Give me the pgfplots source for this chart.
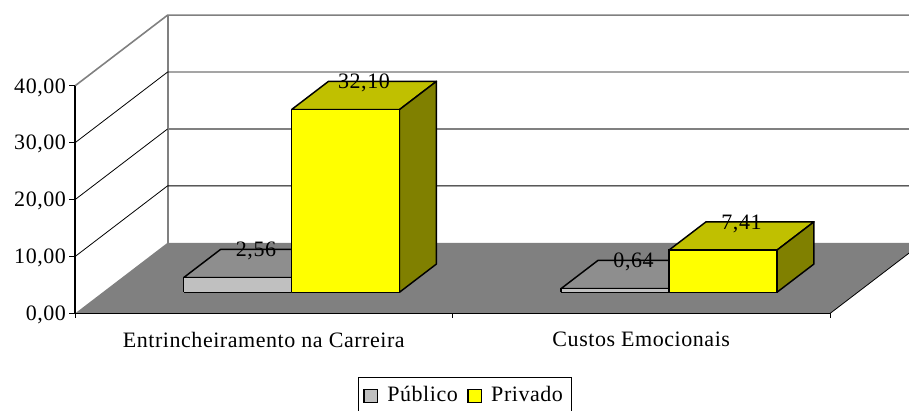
\documentclass[border=0pt]{standalone}
\usepackage{pgfplots}
\usepackage{fontspec}
\setmainfont[LetterSpace=2.5]{Liberation Serif}
\pgfplotsset{compat=1.18}
\definecolor{wallgray}{HTML}{808080}
\definecolor{pubfront}{HTML}{C0C0C0}
\definecolor{pubtop}{HTML}{8E8E8E}
\definecolor{pubside}{HTML}{606060}
\definecolor{prifront}{HTML}{FFFF00}
\definecolor{pritop}{HTML}{C0C000}
\definecolor{priside}{HTML}{808000}
% #1 left x, #2 right x, #3 value, #4 top, #5 side
\newcommand{\barfaces}[5]{%
  \addplot3[forget plot,draw=black,line width=1.1pt,fill=#4,line join=round] coordinates {(#1,0.3,#3) (#2,0.3,#3) (#2,0.7,#3) (#1,0.7,#3) (#1,0.3,#3)};
  \addplot3[forget plot,draw=black,line width=1.1pt,fill=#5,line join=round] coordinates {(#2,0.3,0) (#2,0.7,0) (#2,0.7,#3) (#2,0.3,#3) (#2,0.3,0)};
}
\pgfplotsset{
  swatch/.style={legend image code/.code={
    \draw[#1,draw=black,line width=1pt] (0pt,-5.5pt) rectangle (10pt,4.0pt);}},
}
\begin{document}
\begin{tikzpicture}
\clip[use as bounding box] (0,0) rectangle (681.75pt,307.5pt);
\begin{axis}[
  anchor=origin, at={(56.25pt,72.4pt)},
  x={(283.125pt,0pt)}, y={(69.375pt,53.0pt)}, z={(0pt,4.2675pt)},
  xmin=0, xmax=2, ymin=0, ymax=1, zmin=0, zmax=40,
  clip=false,
  hide axis,
  font=\fontsize{16.5}{19}\selectfont,
  legend cell align=left,
  legend columns=2,
  legend style={at={(0.4596,-0.2117)},anchor=north,draw=black,line width=0.6pt,
    font=\fontsize{16.5}{19}\selectfont,inner xsep=4pt,inner ysep=5pt,
    /tikz/every odd column/.append style={column sep=5pt},
    /tikz/every even column/.append style={column sep=5pt}},
]
% back wall and side wall grid
\addplot3[forget plot,draw=wallgray,line width=1.2pt] coordinates {(0,0,40) (0,1,40) (2.2,1,40)};
\addplot3[forget plot,draw=wallgray,line width=1.5pt] coordinates {(0,1,0) (0,1,40)};
\addplot3[forget plot,draw=black,line width=0.6pt] coordinates {(0,0,30) (0,1,30) (2.2,1,30)};
\addplot3[forget plot,draw=black,line width=0.6pt] coordinates {(0,0,20) (0,1,20)};
\addplot3[forget plot,draw=wallgray,line width=1.2pt] coordinates {(0,1,20) (2.2,1,20)};
\addplot3[forget plot,draw=black,line width=0.6pt] coordinates {(0,0,10) (0,1,10) (2.2,1,10)};
% floor
\addplot3[forget plot,draw=none,fill=wallgray] coordinates {(0,0,0) (2,0,0) (2,1,0) (0,1,0) (0,0,0)};
\addplot3[forget plot,draw=black,line width=0.6pt] coordinates {(2,1,0) (2,0,0)};
\addplot3[forget plot,draw=black,line width=1pt] coordinates {(0,0,0) (2,0,0)};
\addplot3[forget plot,draw=black,line width=0.8pt] coordinates {(0,0,0) (0,0,40)};
% Publico
\barfaces{0.214}{0.5}{2.56}{pubtop}{pubside}
\barfaces{1.214}{1.5}{0.64}{pubtop}{pubside}
\addplot3[swatch={fill=pubfront},draw=black,line width=1.1pt,fill=pubfront] coordinates {(0.214,0.3,0) (0.5,0.3,0) (0.5,0.3,2.56) (0.214,0.3,2.56) (0.214,0.3,0)};
\addlegendentry{Público}
\addplot3[forget plot,draw=black,line width=1.1pt,fill=pubfront] coordinates {(1.214,0.3,0) (1.5,0.3,0) (1.5,0.3,0.64) (1.214,0.3,0.64) (1.214,0.3,0)};
% Privado
\barfaces{0.5}{0.786}{32.10}{pritop}{priside}
\barfaces{1.5}{1.786}{7.41}{pritop}{priside}
\addplot3[swatch={fill=prifront},draw=black,line width=1.1pt,fill=prifront] coordinates {(0.5,0.3,0) (0.786,0.3,0) (0.786,0.3,32.10) (0.5,0.3,32.10) (0.5,0.3,0)};
\addlegendentry{Privado}
\addplot3[forget plot,draw=black,line width=1.1pt,fill=prifront] coordinates {(1.5,0.3,0) (1.786,0.3,0) (1.786,0.3,7.41) (1.5,0.3,7.41) (1.5,0.3,0)};
% value labels
\node[yshift=-1.2pt] at (axis cs:0.308,0.7,2.56) {2,56};
\node[yshift=-1.2pt] at (axis cs:0.594,0.7,32.10) {32,10};
\node[yshift=-1.2pt] at (axis cs:1.308,0.7,0.64) {0,64};
\node[yshift=-1.2pt] at (axis cs:1.594,0.7,7.41) {7,41};
% ticks and tick labels
\foreach \v/\t in {0/0,10/10,20/20,30/30,40/40}{
  \edef\temp{\noexpand\draw[black,line width=0.6pt] (axis cs:0,0,\v) -- ++(-4.5pt,0pt) node[left,inner sep=2pt,yshift=-1.2pt] {\t,00};}
  \temp
}
\foreach \v in {0,1,2}{
  \edef\temp{\noexpand\draw[black,line width=0.6pt] (axis cs:\v,0,0) -- ++(0pt,-3.75pt);}
  \temp
}
\node at (axis cs:0.5,0,-4.6) {Entrincheiramento na Carreira};
\node at (axis cs:1.5,0,-4.6) {Custos Emocionais};
\end{axis}
\end{tikzpicture}
\end{document}
